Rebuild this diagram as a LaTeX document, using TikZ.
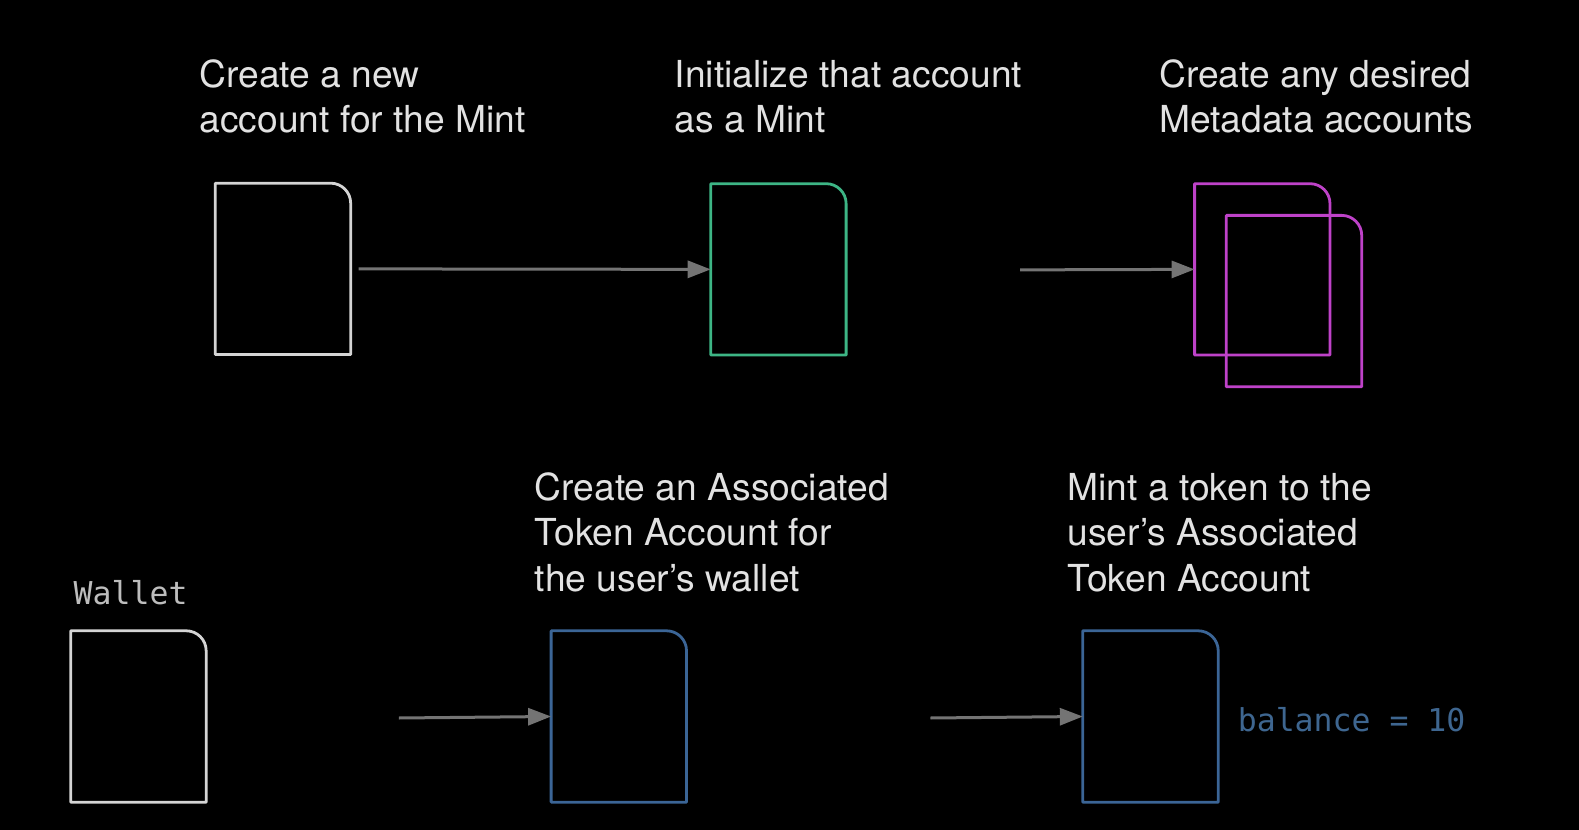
\documentclass[tikz,border=0pt]{standalone}
\usepackage{fontspec}
\setmainfont{TeX Gyre Heros}
\newfontfamily\monofont{DejaVu Sans Mono}
\usetikzlibrary{arrows.meta}
\definecolor{txtcol}{HTML}{E2E2E2}
\definecolor{whitebox}{HTML}{D4D4D4}
\definecolor{greenbox}{HTML}{3DB585}
\definecolor{magbox}{HTML}{BE42C8}
\definecolor{bluebox}{HTML}{3B6596}
\definecolor{baltxt}{HTML}{3E6690}
\definecolor{walltxt}{HTML}{BDBDBD}
\definecolor{arrcol}{HTML}{747474}
\newcommand\DocOutline[2]{%
  \draw[boxline,#2] (#1.south west) -- (#1.north west) -- ([xshift=-20pt]#1.north east)
    arc[start angle=90,end angle=0,radius=20pt] -- (#1.south east) -- cycle;}
\begin{document}
\begin{tikzpicture}[x=1.00702pt,y=-1.00702pt,
  docbox/.style={minimum width=135pt,minimum height=171pt,inner sep=0pt,draw=none},
  boxline/.style={line width=2.8pt,line join=round},
  lbl/.style={anchor=base west,inner sep=0pt,align=left,text=txtcol,
    font=\fontsize{37.2}{45.3}\selectfont},
  mono/.style={anchor=base west,inner sep=0pt,font=\monofont\fontsize{31.5}{36}\selectfont},
  arr/.style={draw=arrcol,line width=3pt,-{Triangle[length=23pt,width=17pt]}}]
\fill[black] (0,0) rectangle (1568,824.2);
\useasboundingbox (0,0) rectangle (1568,824.2);

% boxes
\node[docbox] (box1) at (281,267) {};
\node[docbox] (box2) at (773,267.5) {};
\node[docbox] (box3) at (1253.5,267.5) {};
\node[docbox] (box4) at (1285,299) {};
\node[docbox] (wallet) at (137.5,711.5) {};
\node[docbox] (ata) at (614.5,711.5) {};
\node[docbox] (tokacc) at (1142.5,711.5) {};

\DocOutline{box1}{whitebox}
\DocOutline{box2}{greenbox}
\DocOutline{box3}{magbox}
\DocOutline{box4}{magbox}
\DocOutline{wallet}{whitebox}
\DocOutline{ata}{bluebox}
\DocOutline{tokacc}{bluebox}

% labels (anchor = baseline of last line)
\node[lbl] (t1) at (198,132) {Create a new\\account for the Mint};
\node[lbl] (t2) at (670,132) {Initialize that account\\as a Mint};
\node[lbl] (t3) at (1151,132) {Create any desired\\Metadata accounts};
\node[lbl] (t4) at (531,587) {Create an Associated\\Token Account for\\the user’s wallet};
\node[lbl] (t5) at (1060,587) {Mint a token to the\\user’s Associated\\Token Account};
\node[mono,text=walltxt] (wl) at (73,600) {Wallet};
\node[mono,text=baltxt] (bal) at (1229,726) {balance = 10};

% arrows
\coordinate (a2s) at (1013,268);
\coordinate (a3s) at (396,713);
\coordinate (a4s) at (924,713);
\draw[arr,shorten <=8pt] (box1.east) -- (box2.west);
\draw[arr] (a2s) -- (box3.west);
\draw[arr] (a3s) -- (ata.west);
\draw[arr] (a4s) -- (tokacc.west);
\end{tikzpicture}
\end{document}
